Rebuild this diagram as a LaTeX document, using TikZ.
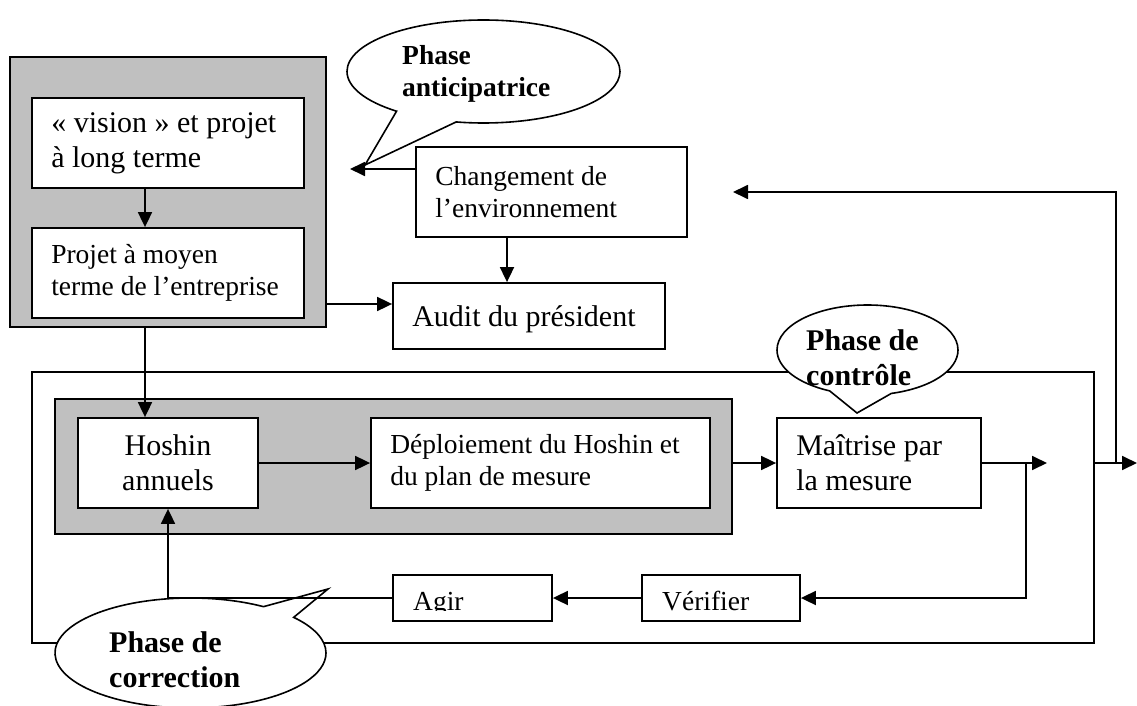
\documentclass[tikz,border=0pt]{standalone}
\usepackage{fontspec}
\setmainfont{Liberation Serif}
\usetikzlibrary{arrows.meta,shapes.callouts}
\definecolor{grisclair}{HTML}{C0C0C0}
\newcommand{\txtn}{\fontsize{27.5}{31.6}\selectfont}
\newcommand{\txtg}{\fontsize{30}{35}\selectfont}
\begin{document}
\begin{tikzpicture}[x=1pt,y=-1pt,
    boite/.style={draw,line width=1.8pt,fill=white,inner sep=0pt},
    texte/.style={inner sep=0pt,align=left,anchor=west},
    fond/.style={draw,line width=1.8pt,fill=grisclair,inner sep=0pt},
    bulle/.style={ellipse callout,draw,line width=1.6pt,fill=white,inner sep=0pt,align=left},
    fleche/.style={line width=1.8pt,-{Triangle[length=15pt,width=14pt]}}]
    \useasboundingbox (0,0) rectangle (1137,706);
    \node[fond,minimum width=316pt,minimum height=270pt] (bloclong) at (168,192) {};
    \node[boite,minimum width=272pt,minimum height=90pt] (vision) at (168,143) {};
    \node[texte,font=\txtg] (visiontxt) at ([xshift=20pt]vision.west) {« vision » et projet\\à long terme};
    \node[boite,minimum width=272pt,minimum height=90pt] (moyen) at (168,273) {};
    \node[texte,font=\txtn] (moyentxt) at ([xshift=20pt]moyen.west) {Projet à moyen\\terme de l’entreprise};
    \node[boite,minimum width=271pt,minimum height=90pt] (changement) at (551.5,192) {};
    \node[texte,font=\txtn] (changementtxt) at ([xshift=20pt]changement.west) {Changement de\\l’environnement};
    \node[boite,minimum width=272pt,minimum height=66pt] (audit) at (529,316) {};
    \node[texte,font=\txtg] (audittxt) at ([xshift=20pt,yshift=-3pt]audit.west) {Audit du président};
    \node[draw,line width=1.8pt,inner sep=0pt,minimum width=1062pt,minimum height=271pt] (cadre) at (563,507.5) {};
    \node[fond,minimum width=677pt,minimum height=135pt] (blocan) at (393.5,466.5) {};
    \node[boite,minimum width=180pt,minimum height=90pt,align=center,font=\txtg] (hoshin) at (168,463) {Hoshin\\annuels};
    \node[boite,minimum width=339pt,minimum height=90pt] (deploiement) at (540.5,463) {};
    \node[texte,font=\txtn] (deploiementtxt) at ([xshift=20pt]deploiement.west) {Déploiement du Hoshin et\\du plan de mesure};
    \node[boite,minimum width=204pt,minimum height=90pt] (maitrise) at (879,463) {};
    \node[texte,font=\txtg] (maitrisetxt) at ([xshift=20pt]maitrise.west) {Maîtrise par\\la mesure};
    \node[boite,minimum width=159pt,minimum height=46pt] (agir) at (472.5,598) {};
    \node[boite,minimum width=158pt,minimum height=46pt] (verifier) at (721,598) {};
    \begin{scope}
        \clip ([yshift=11pt]agir.south west) rectangle (agir.north east);
        \node[anchor=base west,inner sep=0pt,font=\txtn] (agirtxt) at (413,610) {Agir};
    \end{scope}
    \begin{scope}
        \clip ([yshift=11pt]verifier.south west) rectangle (verifier.north east);
        \node[anchor=base west,inner sep=0pt,font=\txtn] (verifiertxt) at (662,610) {Vérifier};
    \end{scope}
    \node[bulle,minimum width=273pt,minimum height=103pt,callout absolute pointer={(365,165)},callout pointer arc=28] (anticipatrice) at (483.5,71.5) {};
    \node[texte,font=\bfseries\txtn] (anticipatricetxt) at (402,74) {Phase\\anticipatrice};
    \node[bulle,minimum width=181pt,minimum height=90pt,callout absolute pointer={(857,413)},callout pointer arc=40] (controle) at (867.5,350) {};
    \node[texte,font=\bfseries\txtg] (controletxt) at (806,358) {Phase de\\contrôle};
    \node[bulle,minimum width=271pt,minimum height=110pt,callout absolute pointer={(328,589)},callout pointer arc=17] (correction) at (190.5,653) {};
    \node[texte,font=\bfseries\txtg] (correctiontxt) at (109,660) {Phase de\\correction};
    \draw[fleche] ([xshift=-23pt]vision.south) -- ([xshift=-23pt]moyen.north);
    \draw[fleche] ([xshift=-23pt]bloclong.south) -- ([xshift=-23pt]hoshin.north);
    \coordinate (entreeaudit) at ([yshift=12pt]audit.west);
    \draw[fleche] (bloclong.east |- entreeaudit) -- (entreeaudit);
    \coordinate (bout1) at (350,169);
    \draw[fleche] (changement.west |- bout1) -- (bout1);
    \coordinate (c1) at ([xshift=-44.5pt]changement.south);
    \draw[fleche] (c1) -- (c1 |- audit.north);
    \draw[fleche] (hoshin.east) -- (deploiement.west);
    \draw[fleche] (blocan.east |- maitrise.west) -- (maitrise.west);
    \coordinate (bout2) at (1047,463);
    \coordinate (n1) at (1026,463);
    \draw[fleche] (maitrise.east) -- (bout2);
    \draw[fleche] (n1) |- (verifier.east);
    \draw[fleche] (verifier.west) -- (agir.east);
    \draw[fleche] (agir.west) -| (hoshin.south);
    \coordinate (bout3) at (1137,463);
    \draw[fleche] (cadre.east |- bout3) -- (bout3);
    \coordinate (n2) at (1116,463);
    \coordinate (bout4) at (733,192);
    \draw[fleche] (n2) |- (bout4);
\end{tikzpicture}
\end{document}
